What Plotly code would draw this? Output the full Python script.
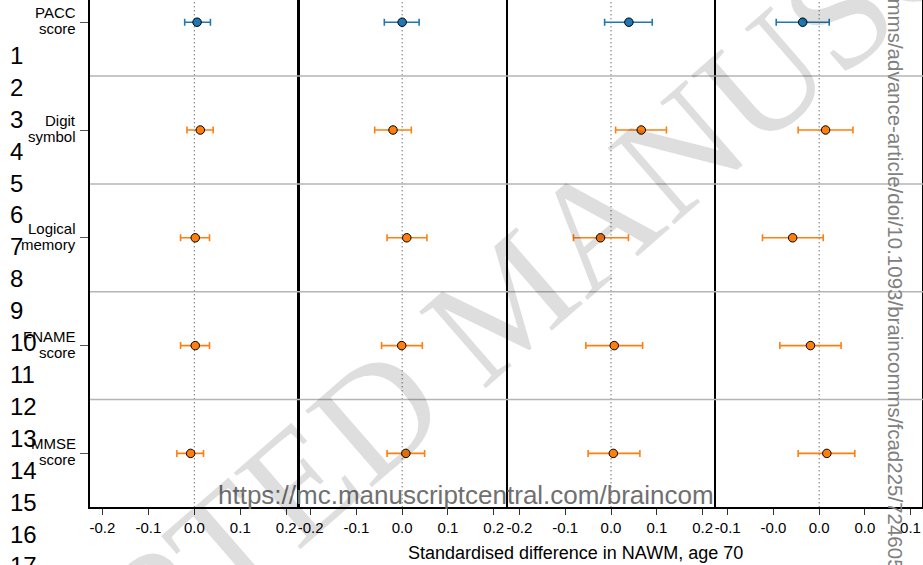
import plotly.graph_objects as go

W, H = 923, 565

# ---------------- data ----------------
outcomes = ["PACC<br>score", "Digit<br>symbol", "Logical<br>memory", "FNAME<br>score", "MMSE<br>score"]
outcome_colors = ["#1f77b4", "#ff7f0e", "#ff7f0e", "#ff7f0e", "#ff7f0e"]

est_p1 = [0.006, 0.013, 0.002, 0.002, -0.008]
lo_p1 = [-0.021, -0.016, -0.030, -0.030, -0.038]
hi_p1 = [0.035, 0.041, 0.033, 0.033, 0.020]

est_p2 = [0.000, -0.020, 0.010, -0.001, 0.008]
lo_p2 = [-0.039, -0.060, -0.033, -0.045, -0.033]
hi_p2 = [0.037, 0.020, 0.054, 0.044, 0.049]

est_p3 = [0.039, 0.066, -0.023, 0.007, 0.005]
lo_p3 = [-0.014, 0.010, -0.082, -0.055, -0.050]
hi_p3 = [0.090, 0.121, 0.038, 0.069, 0.063]

est_p4 = [-0.018, 0.007, -0.029, -0.0095, 0.0084]
lo_p4 = [-0.047, -0.023, -0.062, -0.043, -0.023]
hi_p4 = [0.011, 0.037, 0.0044, 0.024, 0.039]

tickvals_wide = [-0.2, -0.1, 0.0, 0.1, 0.2]
ticktext_wide = ["-0.2", "-0.1", "0.0", "0.1", "0.2"]
tickvals_narrow = [-0.1, -0.05, 0.0, 0.05, 0.1]
ticktext_narrow = ["-0.1", "-0.0", "0.0", "0.0", "0.1"]

x_title = "Standardised difference in NAWM, age 70"
line_numbers = [str(i) for i in range(1, 18)]
url_bottom = "https://mc.manuscriptcentral.com/braincom"
url_side = "mms/advance-article/doi/10.1093/braincomms/fcad225/7246052 by guest"
watermark = "ACCEPTED MANUSCRIPT"

panels = [
    (est_p1, lo_p1, hi_p1, [-0.227, 0.226], tickvals_wide, ticktext_wide),
    (est_p2, lo_p2, hi_p2, [-0.227, 0.228], tickvals_wide, ticktext_wide),
    (est_p3, lo_p3, hi_p3, [-0.228, 0.227], tickvals_wide, ticktext_wide),
    (est_p4, lo_p4, hi_p4, [-0.114, 0.113], tickvals_narrow, ticktext_narrow),
]

# ---------------- layout geometry (pixels) ----------------
panel_edges = [90, 298.2, 506.6, 715, 922.4]
plot_bottom_px = 507.3
y_dom = [1 - plot_bottom_px / H, 1.0]
y_range = [4.5, -0.206]

FONT = "Liberation Sans, Arial, Helvetica, sans-serif"

fig = go.Figure()
rows = list(range(len(outcomes)))

layout = dict(
    width=W, height=H,
    margin=dict(l=0, r=0, t=0, b=0),
    paper_bgcolor="white", plot_bgcolor="white",
    showlegend=False,
    font=dict(family=FONT, size=15, color="black"),
)

shapes = []
for p, (est, lo, hi, xr, tv, tt) in enumerate(panels):
    n = "" if p == 0 else str(p + 1)
    xa, ya = "x" + n, "y" + n
    for i in rows:
        fig.add_trace(go.Scatter(
            x=[est[i]], y=[i], mode="markers",
            xaxis=xa, yaxis=ya,
            marker=dict(size=8.5, color=outcome_colors[i], line=dict(color="black", width=1)),
            error_x=dict(type="data", symmetric=False,
                         array=[hi[i] - est[i]], arrayminus=[est[i] - lo[i]],
                         color=outcome_colors[i], thickness=1.6, width=3.5),
            hoverinfo="x+y",
        ))
    layout["xaxis" + n] = dict(
        domain=[panel_edges[p] / W, panel_edges[p + 1] / W],
        range=xr, anchor=ya,
        tickvals=tv, ticktext=tt,
        ticks="outside", ticklen=6, tickcolor="#333", tickwidth=1,
        showline=True, linecolor="black", linewidth=2,
        showgrid=False, zeroline=False,
        tickfont=dict(size=15, family=FONT, color="black"),
    )
    ydict = dict(
        domain=y_dom, range=y_range, anchor=xa,
        showgrid=False, zeroline=False,
        showline=True, mirror=True, linecolor="black", linewidth=1,
    )
    if p == 0:
        ydict.update(tickvals=rows, ticktext=["" for _ in rows], ticks="outside", ticklen=8,
                     tickcolor="#555", tickwidth=1, linewidth=2)
    else:
        ydict.update(showticklabels=False, ticks="")
    layout["yaxis" + n] = ydict
    # dotted zero reference line
    shapes.append(dict(type="line", xref=xa, yref=ya + " domain",
                       x0=0, x1=0, y0=0, y1=1,
                       line=dict(color="#333", width=1, dash="1px,3px"), layer="below"))

# gray separators between outcome rows
for i in rows[:-1]:
    shapes.append(dict(type="line", xref="paper", yref="y",
                       x0=panel_edges[0] / W, x1=1.0, y0=i + 0.5, y1=i + 0.5,
                       line=dict(color="#b5b5b5", width=1.5), layer="above"))

layout["shapes"] = shapes

annotations = []
# outcome labels (two tight lines each, right-aligned next to the ticks)
for i, lab in enumerate(outcomes):
    parts = lab.split("<br>")
    for j, part in enumerate(parts):
        annotations.append(dict(text=part, xref="paper", yref="y",
                                x=78 / W, y=i, yshift=9.5 if j == 0 else -6.5,
                                showarrow=False, xanchor="right", yanchor="middle",
                                font=dict(size=15, family=FONT, color="black")))
# x-axis title
annotations.append(dict(text=x_title, xref="paper", yref="paper",
                        x=575 / W, y=1 - 553 / H, showarrow=False,
                        xanchor="center", yanchor="middle",
                        font=dict(size=18, family=FONT, color="black")))
# manuscript line numbers
for k, t in enumerate(line_numbers):
    ypx = 55.5 + k * 31.9
    annotations.append(dict(text=t, xref="paper", yref="paper",
                            x=8 / W, y=1 - ypx / H, showarrow=False,
                            xanchor="left", yanchor="middle",
                            font=dict(size=24, family=FONT, color="black")))
# bottom URL
annotations.append(dict(text=url_bottom, xref="paper", yref="paper",
                        x=466 / W, y=1 - 495 / H, showarrow=False,
                        xanchor="center", yanchor="middle",
                        font=dict(size=26, family=FONT, color="#707070")))
# side URL
annotations.append(dict(text=url_side, xref="paper", yref="paper",
                        x=895 / W, y=1 + 4 / H, showarrow=False,
                        xanchor="center", yanchor="top", textangle=90,
                        font=dict(size=20.5, family=FONT, color="#808080")))
# watermark
annotations.append(dict(text=watermark, xref="paper", yref="paper",
                        x=508 / W, y=1 - 300 / H, showarrow=False,
                        xanchor="center", yanchor="middle", textangle=-41,
                        font=dict(size=155, family="Liberation Serif, serif",
                                  color="rgba(0,0,0,0.13)")))
layout["annotations"] = annotations

fig.update_layout(**layout)
fig.write_html("out.html", config={"displayModeBar": False},
               post_script="document.body.style.margin='0';document.body.style.overflow='hidden';")
